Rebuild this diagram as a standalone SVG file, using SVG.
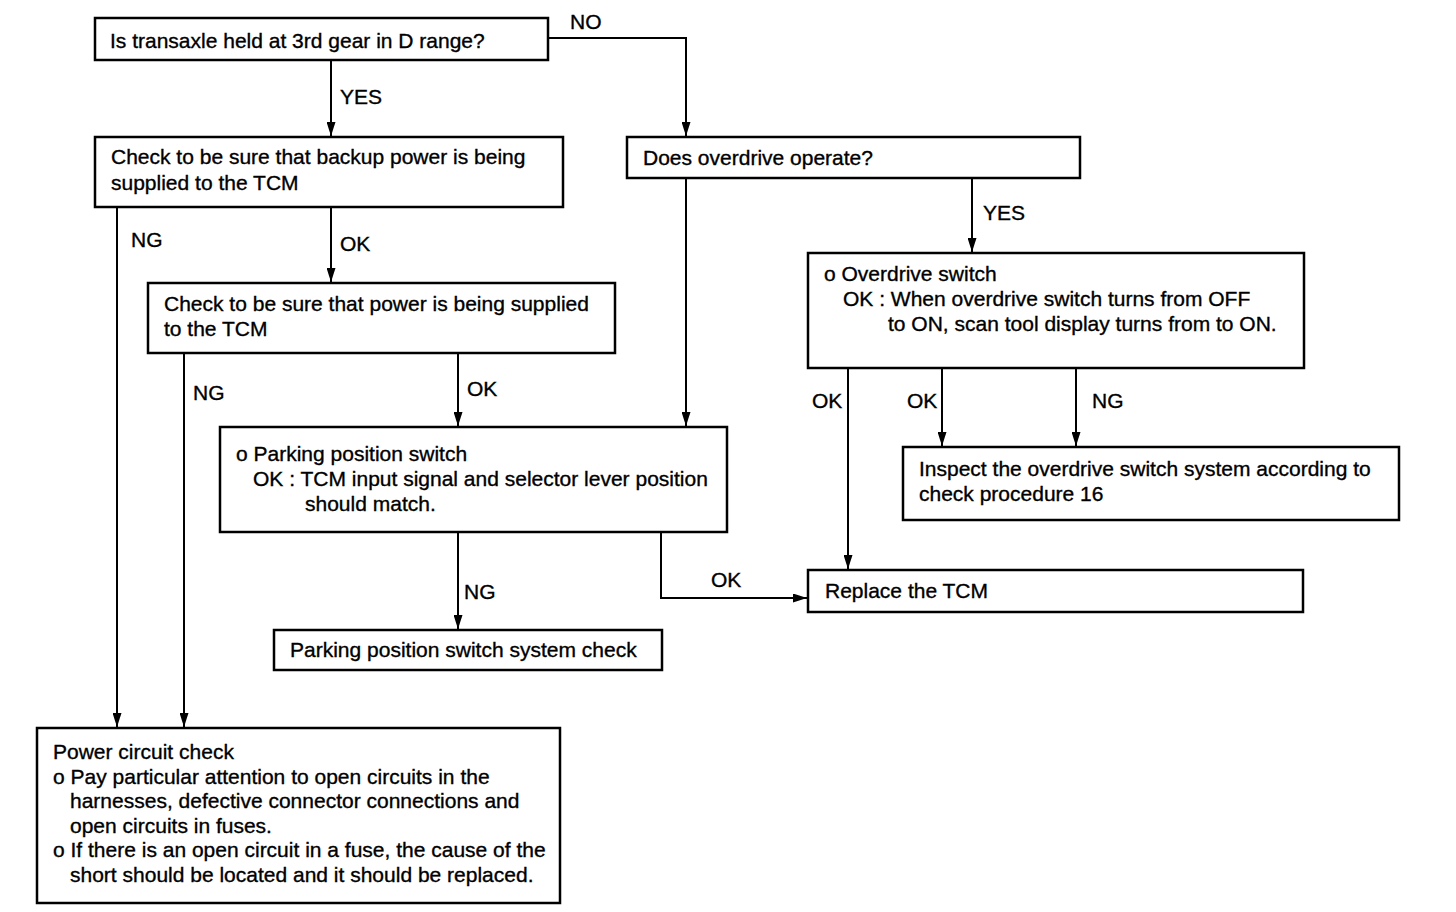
<svg xmlns="http://www.w3.org/2000/svg" width="1456" height="912" viewBox="0 0 1456 912">
<style>
.box{fill:#fff;stroke:#000;stroke-width:2.5}
.ln{fill:none;stroke:#000;stroke-width:2}
text{font-family:"Liberation Sans",Arial,sans-serif;font-size:21px;fill:#000;stroke:#000;stroke-width:0.35}
</style>
<defs>
<marker id="ah" markerWidth="14" markerHeight="9" refX="14" refY="4.5" viewBox="0 0 14 9" markerUnits="userSpaceOnUse" orient="auto">
<path d="M0,0 L14,4.5 L0,9 Z" fill="#000"/>
</marker>
</defs>
<rect width="1456" height="912" fill="#fff"/>
<g id="connectors">
<path class="ln" d="M548,38 H686 V136" marker-end="url(#ah)"/>
<path class="ln" d="M331,60 V136" marker-end="url(#ah)"/>
<path class="ln" d="M117,207 V727" marker-end="url(#ah)"/>
<path class="ln" d="M331,207 V282" marker-end="url(#ah)"/>
<path class="ln" d="M184,353 V727" marker-end="url(#ah)"/>
<path class="ln" d="M458,353 V426" marker-end="url(#ah)"/>
<path class="ln" d="M686,178 V426" marker-end="url(#ah)"/>
<path class="ln" d="M972,178 V252" marker-end="url(#ah)"/>
<path class="ln" d="M458,532 V629" marker-end="url(#ah)"/>
<path class="ln" d="M661,532 V598 H807" marker-end="url(#ah)"/>
<path class="ln" d="M848,368 V569" marker-end="url(#ah)"/>
<path class="ln" d="M942,368 V446" marker-end="url(#ah)"/>
<path class="ln" d="M1076,368 V446" marker-end="url(#ah)"/>
<text x="570" y="29">NO</text>
<text x="340" y="104">YES</text>
<text x="131" y="247">NG</text>
<text x="340" y="251">OK</text>
<text x="193" y="400">NG</text>
<text x="467" y="396">OK</text>
<text x="983" y="220">YES</text>
<text x="464" y="599">NG</text>
<text x="711" y="587">OK</text>
<text x="812" y="408">OK</text>
<text x="907" y="408">OK</text>
<text x="1092" y="408">NG</text>
</g>
<g id="q1">
<rect class="box" x="95" y="18" width="453" height="42"/>
<text x="110" y="48">Is transaxle held at 3rd gear in D range?</text>
</g>
<g id="backup">
<rect class="box" x="95" y="137" width="468" height="70"/>
<text x="111" y="164">Check to be sure that backup power is being</text>
<text x="111" y="190">supplied to the TCM</text>
</g>
<g id="power">
<rect class="box" x="148" y="283" width="467" height="70"/>
<text x="164" y="311">Check to be sure that power is being supplied</text>
<text x="164" y="336">to the TCM</text>
</g>
<g id="overdrive-q">
<rect class="box" x="627" y="137" width="453" height="41"/>
<text x="643" y="165">Does overdrive operate?</text>
</g>
<g id="od-switch">
<rect class="box" x="808" y="253" width="496" height="115"/>
<text x="824" y="281">o Overdrive switch</text>
<text x="843" y="306">OK : When overdrive switch turns from OFF</text>
<text x="888" y="331">to ON, scan tool display turns from to ON.</text>
</g>
<g id="parking">
<rect class="box" x="220" y="427" width="507" height="105"/>
<text x="236" y="461">o Parking position switch</text>
<text x="253" y="486">OK : TCM input signal and selector lever position</text>
<text x="305" y="511">should match.</text>
</g>
<g id="parking-check">
<rect class="box" x="274" y="630" width="388" height="40"/>
<text x="290" y="657">Parking position switch system check</text>
</g>
<g id="replace">
<rect class="box" x="808" y="570" width="495" height="42"/>
<text x="825" y="598">Replace the TCM</text>
</g>
<g id="inspect">
<rect class="box" x="903" y="447" width="496" height="73"/>
<text x="919" y="476">Inspect the overdrive switch system according to</text>
<text x="919" y="501">check procedure 16</text>
</g>
<g id="power-circuit">
<rect class="box" x="37" y="728" width="523" height="175"/>
<text x="53" y="759">Power circuit check</text>
<text x="53" y="784">o Pay particular attention to open circuits in the</text>
<text x="70" y="808">harnesses, defective connector connections and</text>
<text x="70" y="833">open circuits in fuses.</text>
<text x="53" y="857">o If there is an open circuit in a fuse, the cause of the</text>
<text x="70" y="882">short should be located and it should be replaced.</text>
</g>
</svg>
